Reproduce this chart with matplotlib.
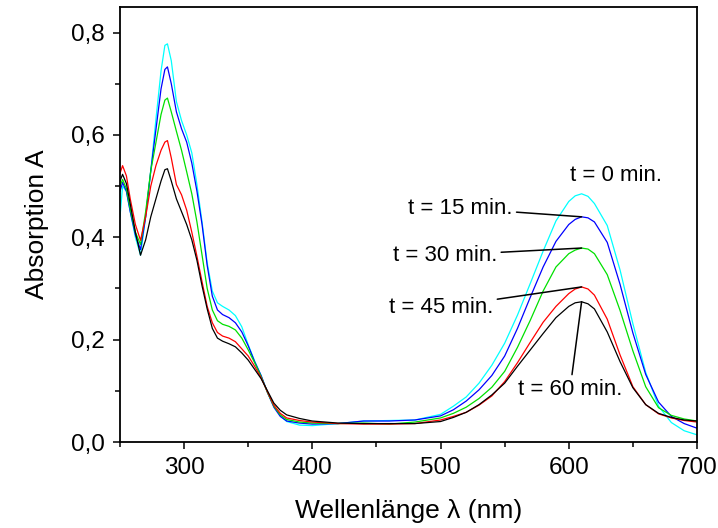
import numpy as np
import matplotlib
matplotlib.use("Agg")
import matplotlib.pyplot as plt

plt.rcParams['font.family'] = ['Liberation Sans', 'DejaVu Sans']

# Wellenlaengen (nm)
wl = [250, 252, 255, 258, 262, 266, 270, 274, 278, 282, 285, 287, 290, 294, 298,
      302, 306, 310, 314, 318, 322, 326, 330, 335, 340, 345, 350, 355, 360, 365,
      370, 375, 380, 390, 400, 420, 440, 460, 480, 500, 510, 520, 530, 540, 550,
      560, 570, 580, 590, 600, 605, 610, 615, 620, 630, 640, 650, 660, 670, 680,
      690, 700]

# Absorption fuer t = 0, 15, 30, 45, 60 min
a_0 = [0.44, 0.50, 0.49, 0.45, 0.40, 0.365, 0.44, 0.53, 0.63, 0.725, 0.775, 0.778, 0.745, 0.665, 0.628,
       0.60, 0.565, 0.503, 0.43, 0.35, 0.295, 0.272, 0.265, 0.258, 0.247, 0.225, 0.19, 0.158, 0.13, 0.097,
       0.07, 0.052, 0.04, 0.033, 0.032, 0.036, 0.041, 0.042, 0.043, 0.054, 0.07, 0.088, 0.115, 0.15, 0.193,
       0.248, 0.31, 0.373, 0.432, 0.47, 0.481, 0.485, 0.48, 0.466, 0.423, 0.336, 0.231, 0.136, 0.07, 0.038,
       0.022, 0.014]
a_15 = [0.49, 0.507, 0.49, 0.45, 0.405, 0.376, 0.44, 0.53, 0.61, 0.69, 0.728, 0.733, 0.70, 0.645, 0.612,
        0.586, 0.545, 0.49, 0.425, 0.345, 0.285, 0.258, 0.249, 0.243, 0.233, 0.215, 0.188, 0.157, 0.13, 0.097,
        0.068, 0.05, 0.041, 0.037, 0.035, 0.036, 0.041, 0.041, 0.043, 0.051, 0.063, 0.08, 0.102, 0.13, 0.168,
        0.222, 0.283, 0.342, 0.392, 0.425, 0.435, 0.44, 0.438, 0.43, 0.39, 0.308, 0.213, 0.132, 0.078, 0.05,
        0.036, 0.027]
a_30 = [0.50, 0.513, 0.495, 0.455, 0.41, 0.386, 0.45, 0.53, 0.585, 0.64, 0.668, 0.672, 0.645, 0.607, 0.57,
        0.528, 0.485, 0.43, 0.365, 0.30, 0.258, 0.237, 0.23, 0.226, 0.219, 0.203, 0.18, 0.155, 0.128, 0.097,
        0.07, 0.053, 0.044, 0.039, 0.037, 0.036, 0.037, 0.035, 0.039, 0.047, 0.056, 0.068, 0.085, 0.107, 0.138,
        0.185, 0.238, 0.295, 0.342, 0.368, 0.375, 0.379, 0.377, 0.368, 0.327, 0.257, 0.178, 0.108, 0.067, 0.052,
        0.045, 0.041]
a_45 = [0.525, 0.54, 0.52, 0.475, 0.425, 0.394, 0.44, 0.50, 0.54, 0.57, 0.586, 0.589, 0.555, 0.503, 0.483,
        0.453, 0.41, 0.363, 0.313, 0.265, 0.233, 0.214, 0.207, 0.203, 0.196, 0.182, 0.168, 0.148, 0.126, 0.098,
        0.072, 0.056, 0.047, 0.042, 0.039, 0.036, 0.035, 0.035, 0.036, 0.043, 0.05, 0.058, 0.072, 0.09, 0.118,
        0.155, 0.195, 0.234, 0.265, 0.29, 0.299, 0.303, 0.299, 0.287, 0.24, 0.17, 0.108, 0.073, 0.055, 0.047,
        0.042, 0.039]
a_60 = [0.51, 0.523, 0.505, 0.465, 0.41, 0.365, 0.395, 0.44, 0.475, 0.51, 0.532, 0.534, 0.51, 0.475, 0.45,
        0.425, 0.395, 0.355, 0.305, 0.26, 0.222, 0.203, 0.197, 0.192, 0.186, 0.174, 0.16, 0.142, 0.124, 0.10,
        0.076, 0.062, 0.053, 0.046, 0.041, 0.037, 0.036, 0.036, 0.036, 0.04, 0.048, 0.058, 0.073, 0.092, 0.115,
        0.148, 0.18, 0.212, 0.243, 0.265, 0.272, 0.274, 0.27, 0.26, 0.215, 0.157, 0.106, 0.073, 0.056, 0.048,
        0.043, 0.041]

series = [a_0, a_15, a_30, a_45, a_60]
labels = ["t = 0 min.", "t = 15 min.", "t = 30 min.", "t = 45 min.", "t = 60 min."]
colors = ["#00ffff", "#0000ff", "#00e000", "#ff0000", "#000000"]

# Beschriftung der Kurven (Textposition in Datenkoordinaten)
label_x = [637, 556, 544, 541, 601]
label_y = [0.521, 0.457, 0.365, 0.263, 0.103]
label_ha = ["center", "right", "right", "right", "center"]

xticks = [300, 400, 500, 600, 700]
yticks = [0.0, 0.2, 0.4, 0.6, 0.8]
ytick_labels = ["0,0", "0,2", "0,4", "0,6", "0,8"]

fig = plt.figure(figsize=(7.18, 5.28), dpi=100)
ax = fig.add_axes([120/718, 86/528, 577/718, 435/528])

wl = np.array(wl)
for y, c in zip(series, colors):
    ax.plot(wl, y, color=c, lw=0.9)

# Linien von der Beschriftung zum Maximum der Bande bei ~610 nm
band = wl > 500
for i, (y, lab) in enumerate(zip(series, labels)):
    y = np.array(y)
    k = np.argmax(np.where(band, y, -1))
    if i == 0:
        ax.text(label_x[i], label_y[i], lab, ha=label_ha[i], va="center", fontsize=16)
    else:
        ax.annotate(lab, xy=(wl[k], y[k]), xytext=(label_x[i], label_y[i]),
                    ha=label_ha[i], va="center", fontsize=16,
                    arrowprops=dict(arrowstyle="-", color="black", lw=1.1,
                                    shrinkA=1, shrinkB=0))

ax.set_xlim(250, 700)
ax.set_ylim(0, 0.85)
ax.set_xticks(xticks)
ax.set_xticks(np.arange(250, 701, 50), minor=True)
ax.set_yticks(yticks)
ax.set_yticklabels(ytick_labels)
ax.set_yticks(np.arange(0, 0.81, 0.1), minor=True)
ax.tick_params(which="major", direction="out", length=5, width=1.1, labelsize=17.5, pad=6)
ax.tick_params(which="minor", direction="out", length=3.5, width=1.1)
for s in ax.spines.values():
    s.set_linewidth(1.3)

ax.set_xlabel("Wellenlänge λ (nm)", fontsize=19, labelpad=14)
ax.set_ylabel("Absorption A", fontsize=19, labelpad=16)

plt.savefig("out.png", dpi=100)
